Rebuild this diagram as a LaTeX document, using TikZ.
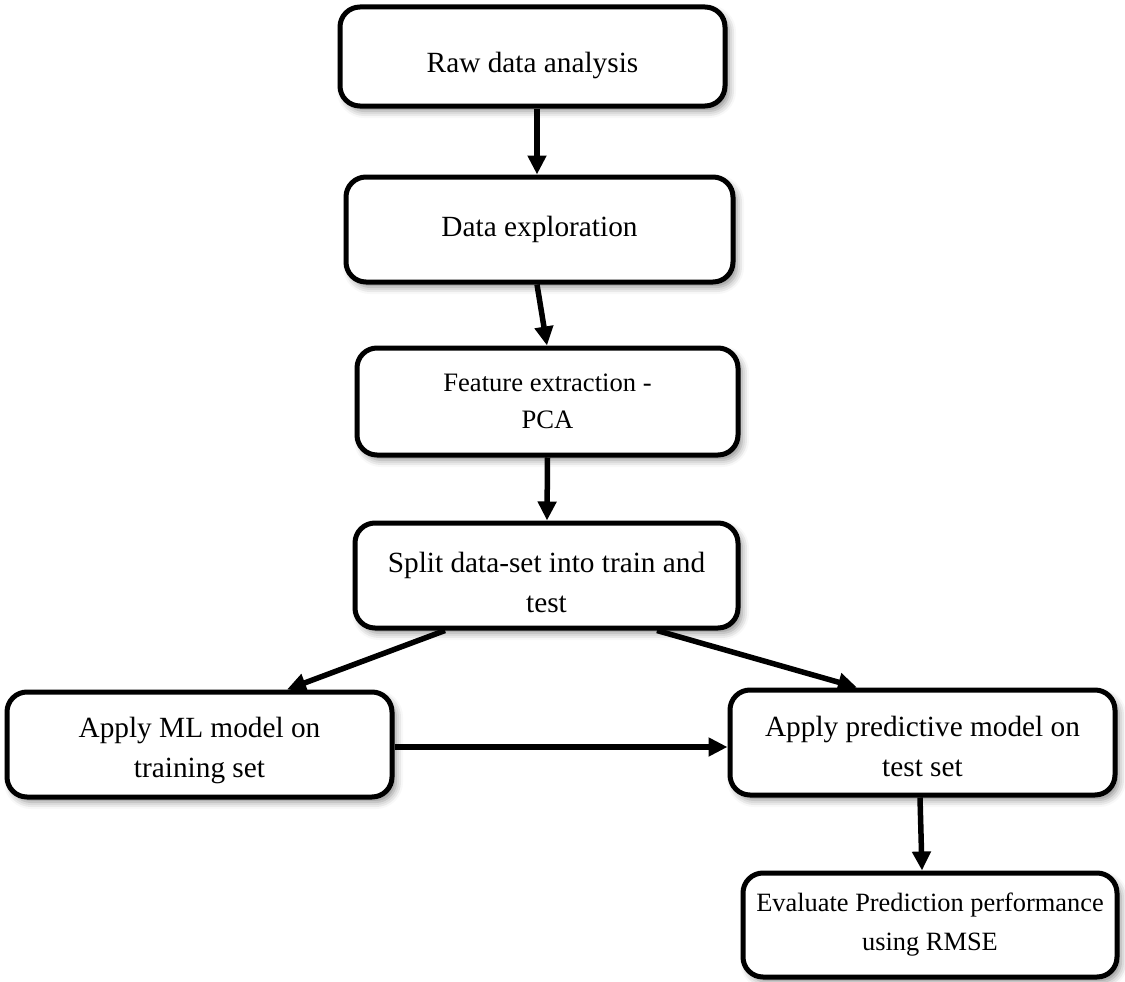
\documentclass[tikz,border=0pt]{standalone}
\usepackage{fontspec}
\setmainfont{Liberation Serif}
\usetikzlibrary{arrows.meta,shadows.blur}
\newcommand{\pushdown}[1]{\rule{0pt}{#1pt}}
\begin{document}
\begin{tikzpicture}[x=1pt,y=-1pt,
  box/.style={draw=black, line width=5pt, rounded corners=20pt, fill=white,
    align=center, inner sep=0pt,
    blur shadow={shadow xshift=4pt, shadow yshift=-5pt, shadow blur radius=7pt, shadow opacity=45},
    font=\fontsize{29.3}{40}\selectfont},
  smallfont/.style={font=\fontsize{26.6}{37}\selectfont},
  midfont/.style={font=\fontsize{26.4}{39}\selectfont},
  arr/.style={line width=5.5pt, -{Triangle[length=19pt,width=18pt]}}]
\useasboundingbox (0,0) rectangle (1125,982);
\node[box, minimum width=385pt, minimum height=99pt] (b1) at (532.5,56.5) {\pushdown{38}Raw data analysis};
\node[box, minimum width=387pt, minimum height=105pt] (b2) at (539.5,229.5) {Data exploration};
\node[box, smallfont, minimum width=381pt, minimum height=107pt] (b3) at (547.5,401.5) {Feature extraction -\\PCA};
\node[box, minimum width=383pt, minimum height=105pt] (b4) at (546.5,575.5) {\pushdown{34}Split data-set into train and\\test};
\node[box, minimum width=385pt, minimum height=105pt] (b5) at (199.5,744.5) {\pushdown{32}Apply ML model on\\training set};
\node[box, minimum width=385pt, minimum height=105pt] (b6) at (922.5,742.5) {\pushdown{29}Apply predictive model on\\test set};
\node[box, midfont, minimum width=374pt, minimum height=104pt] (b7) at (930,925) {Evaluate Prediction performance\\using RMSE};
\draw[arr] ([xshift=4.5pt]b1.south) -- ([xshift=-2.5pt]b2.north);
\draw[arr] ([xshift=-2.5pt]b2.south) -- ([xshift=-0.5pt]b3.north);
\draw[arr] (b3.south) -- ([xshift=0.5pt]b4.north);
\draw[arr] ([xshift=-101.5pt]b4.south) -- ([xshift=87.5pt]b5.north);
\draw[arr] ([xshift=110.5pt]b4.south) -- ([xshift=-65.5pt]b6.north);
\draw[arr] ([yshift=-2.5pt]b5.east) -- ([yshift=-4.5pt]b6.west);
\draw[arr] ([xshift=-2.5pt]b6.south) -- ([xshift=-8pt]b7.north);
\end{tikzpicture}
\end{document}
